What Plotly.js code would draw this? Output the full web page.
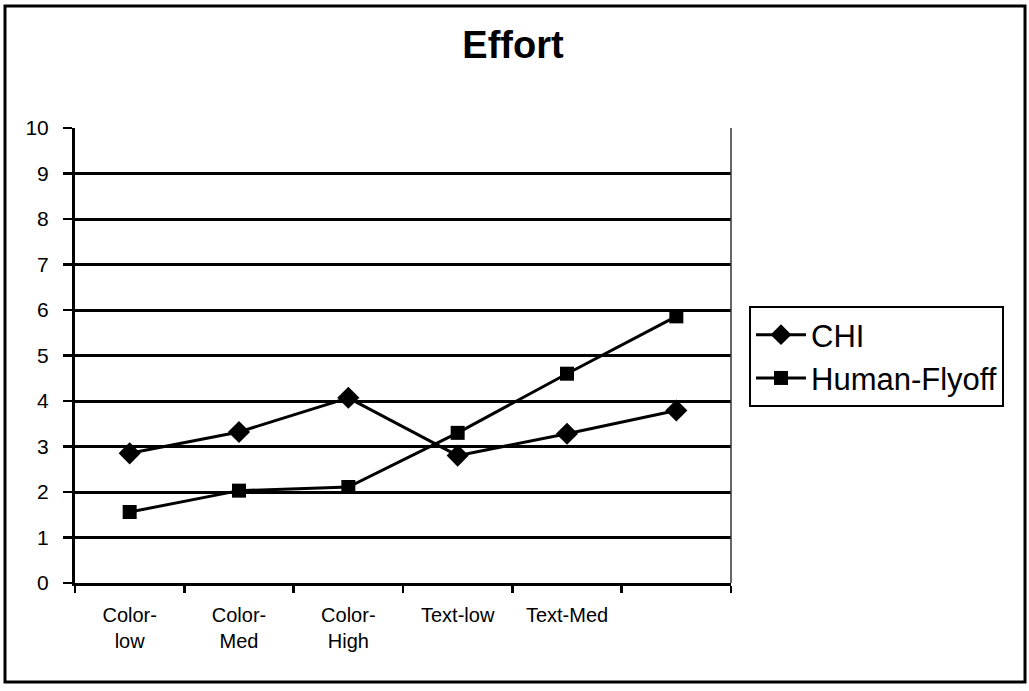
<!DOCTYPE html>
<html>
<head>
<meta charset="utf-8">
<script src="https://cdn.plot.ly/plotly-3.0.1.min.js"></script>
<style>html,body{margin:0;padding:0;background:#fff;}#chart{width:1029px;height:691px;}</style>
</head>
<body>
<div id="chart"></div>
<script>
var categories = ["Color-<br>low", "Color-<br>Med", "Color-<br>High", "Text-low", "Text-Med", " "];
var chiValues = [2.85, 3.32, 4.07, 2.8, 3.28, 3.79];
var humanFlyoffValues = [1.56, 2.03, 2.11, 3.3, 4.6, 5.86];
var yTickValues = [0, 1, 2, 3, 4, 5, 6, 7, 8, 9, 10];

var traces = [
  {
    x: categories, y: chiValues, name: "CHI", type: "scatter", mode: "lines+markers",
    line: {color: "#000", width: 3},
    marker: {symbol: "diamond", size: 17, color: "#000"}
  },
  {
    x: categories, y: humanFlyoffValues, name: "Human-Flyoff", type: "scatter", mode: "lines+markers",
    line: {color: "#000", width: 3},
    marker: {symbol: "square", size: 14, color: "#000"}
  }
];

var L = 75, R = 731, T = 128, B = 583, W = 1029, H = 691;
function px(x) { return (x - L) / (R - L); }
function py(y) { return (B - y) / (B - T); }

var layout = {
  width: W, height: H,
  margin: {l: L, r: W - R, t: T, b: H - B, pad: 0},
  paper_bgcolor: "#fff", plot_bgcolor: "#fff",
  font: {family: "Liberation Sans, Arial, sans-serif", color: "#000"},
  title: {text: "<b>Effort</b>", font: {size: 38, color: "#000"}, x: 0.4985, xanchor: "center", y: 0.935, yanchor: "middle"},
  xaxis: {
    type: "category", tickson: "boundaries",
    showline: true, linecolor: "#000", linewidth: 3,
    ticks: "outside", ticklen: 7, tickwidth: 2.5, tickcolor: "#000",
    tickfont: {size: 20}, ticklabelstandoff: 12, showgrid: false, zeroline: false,
    range: [-0.5, 5.5], fixedrange: true, mirror: false
  },
  yaxis: {
    range: [0, 10], tickvals: yTickValues,
    showline: true, linecolor: "#000", linewidth: 3,
    ticks: "outside", ticklen: 9, tickwidth: 2.5, tickcolor: "#000",
    tickfont: {size: 21}, ticklabelstandoff: 10, showgrid: true, gridcolor: "#000", gridwidth: 3,
    zeroline: false, fixedrange: true
  },
  legend: {
    x: px(749), y: py(306), xanchor: "left", yanchor: "top",
    bordercolor: "#000", borderwidth: 2, bgcolor: "#fff",
    font: {size: 31, color: "#000"}, tracegroupgap: 0, itemwidth: 50
  },
  showlegend: true,
  shapes: [
    {type: "rect", xref: "paper", yref: "paper", x0: px(5), x1: px(1025), y0: py(682), y1: py(6),
     line: {color: "#000", width: 3}, layer: "below"},
    {type: "line", xref: "paper", yref: "paper", x0: 1, x1: 1, y0: 0, y1: 1,
     line: {color: "#333", width: 1.5}}
  ]
};

Plotly.newPlot("chart", traces, layout, {displayModeBar: false, staticPlot: true});
</script>
</body>
</html>
